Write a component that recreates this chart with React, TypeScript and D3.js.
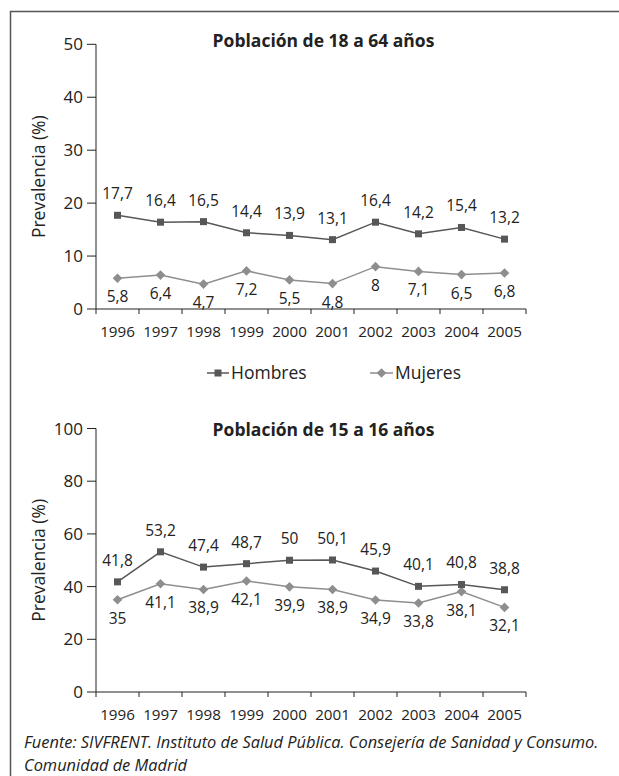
import React from "react";
import * as d3 from "d3";

const years = ["1996", "1997", "1998", "1999", "2000", "2001", "2002", "2003", "2004", "2005"];
const hombresAdultos = [17.7, 16.4, 16.5, 14.4, 13.9, 13.1, 16.4, 14.2, 15.4, 13.2];
const mujeresAdultos = [5.8, 6.4, 4.7, 7.2, 5.5, 4.8, 8, 7.1, 6.5, 6.8];
const hombresJovenes = [41.8, 53.2, 47.4, 48.7, 50, 50.1, 45.9, 40.1, 40.8, 38.8];
const mujeresJovenes = [35, 41.1, 38.9, 42.1, 39.9, 38.9, 34.9, 33.8, 38.1, 32.1];
const ticksAdultos = [0, 10, 20, 30, 40, 50];
const ticksJovenes = [0, 20, 40, 60, 80, 100];
const seriesNames = ["Hombres", "Mujeres"];
const titles = ["Población de 18 a 64 años", "Población de 15 a 16 años"];
const yTitle = "Prevalencia (%)";
const source1 = "Fuente: SIVFRENT. Instituto de Salud Pública. Consejería de Sanidad y Consumo.";
const source2 = "Comunidad de Madrid";

const FONT = "'Open Sans', 'Noto Sans', sans-serif";
const C_H = "#575757";
const C_M = "#8e8e8e";
const AXIS = "#222";

const fmt = (v: number) => String(v).replace(".", ",");

function Square({ x, y }: { x: number; y: number }) {
  return <rect x={x - 3.5} y={y - 3.5} width={7} height={7} fill={C_H} />;
}
function Diamond({ x, y }: { x: number; y: number }) {
  const r = 4.8;
  return <path d={`M${x},${y - r}L${x + r},${y}L${x},${y + r}L${x - r},${y}Z`} fill={C_M} />;
}

function Panel({
  top, bottom, max, ticks, h, m, title, titleY,
}: {
  top: number; bottom: number; max: number; ticks: number[]; h: number[]; m: number[]; title: string; titleY: number;
}) {
  const x = d3.scaleBand<string>().domain(years).range([96, 526]);
  const y = d3.scaleLinear().domain([0, max]).range([bottom, top]);
  const cx = (yr: string) => (x(yr) as number) + x.bandwidth() / 2;
  const line = d3.line<number>().x((_, i) => cx(years[i])).y((v) => y(v));
  const x0 = x.range()[0];
  const x1 = x.range()[1];
  return (
    <g>
      <text x={323.5} y={titleY} textAnchor="middle" fontFamily={FONT} fontWeight={700} fontSize={17.5} fill="#222">{title}</text>
      <text transform={`translate(45,${(top + bottom) / 2}) rotate(-90)`} textAnchor="middle" fontFamily={FONT} fontSize={17.5} fill="#222">{yTitle}</text>
      {/* y axis */}
      <line x1={x0} x2={x0} y1={y(max)} y2={bottom} stroke={AXIS} strokeWidth={1} />
      {ticks.map((t) => (
        <g key={t}>
          <line x1={x0 - 9} x2={x0} y1={y(t)} y2={y(t)} stroke={AXIS} strokeWidth={1} />
          <text x={x0 - 13} y={y(t) + 6} textAnchor="end" fontFamily={FONT} fontSize={17} fill="#222">{t}</text>
        </g>
      ))}
      {/* x axis */}
      <line x1={x0} x2={x1} y1={bottom} y2={bottom} stroke={AXIS} strokeWidth={1.2} />
      {[...years.map((yr) => x(yr) as number), x1].map((p, i) => (
        <line key={i} x1={p} x2={p} y1={bottom} y2={bottom + 5} stroke={AXIS} strokeWidth={1} />
      ))}
      {years.map((yr) => (
        <text key={yr} x={cx(yr)} y={bottom + 28} textAnchor="middle" fontFamily={FONT} fontSize={15.2} fill="#222">{yr}</text>
      ))}
      {/* series */}
      <path d={line(m) || ""} fill="none" stroke={C_M} strokeWidth={1.5} />
      <path d={line(h) || ""} fill="none" stroke={C_H} strokeWidth={1.5} />
      {m.map((v, i) => <Diamond key={"m" + i} x={cx(years[i])} y={y(v)} />)}
      {h.map((v, i) => <Square key={"h" + i} x={cx(years[i])} y={y(v)} />)}
      {h.map((v, i) => (
        <text key={"th" + i} x={cx(years[i])} y={y(v) - 16} textAnchor="middle" fontFamily={FONT} fontSize={15.5} fill="#222">{fmt(v)}</text>
      ))}
      {m.map((v, i) => (
        <text key={"tm" + i} x={cx(years[i])} y={y(v) + 24} textAnchor="middle" fontFamily={FONT} fontSize={15.5} fill="#222">{fmt(v)}</text>
      ))}
    </g>
  );
}

export default function App() {
  return (
    <svg width={619} height={776} style={{ position: "absolute", left: 0, top: 0, background: "#fff" }}>
      <rect x={0} y={0} width={619} height={776} fill="#fff" />
      <path d="M10.5,776V11.5H619" fill="none" stroke="#555" strokeWidth={1.5} />
      <Panel top={44.3} bottom={309} max={50} ticks={ticksAdultos} h={hombresAdultos} m={mujeresAdultos} title={titles[0]} titleY={47} />
      {/* legend */}
      <g>
        <line x1={207} x2={229} y1={373} y2={373} stroke={C_H} strokeWidth={1.5} />
        <Square x={218} y={373} />
        <text x={231} y={379} fontFamily={FONT} fontSize={17.5} fill="#222">{seriesNames[0]}</text>
        <line x1={370} x2={393} y1={373} y2={373} stroke={C_M} strokeWidth={1.5} />
        <Diamond x={381.5} y={373} />
        <text x={395} y={379} fontFamily={FONT} fontSize={17.5} fill="#222">{seriesNames[1]}</text>
      </g>
      <Panel top={428.5} bottom={692} max={100} ticks={ticksJovenes} h={hombresJovenes} m={mujeresJovenes} title={titles[1]} titleY={436} />
      <text x={24} y={748} fontFamily={FONT} fontStyle="italic" fontSize={16.4} fill="#222">{source1}</text>
      <text x={24} y={771} fontFamily={FONT} fontStyle="italic" fontSize={16.4} fill="#222">{source2}</text>
    </svg>
  );
}
